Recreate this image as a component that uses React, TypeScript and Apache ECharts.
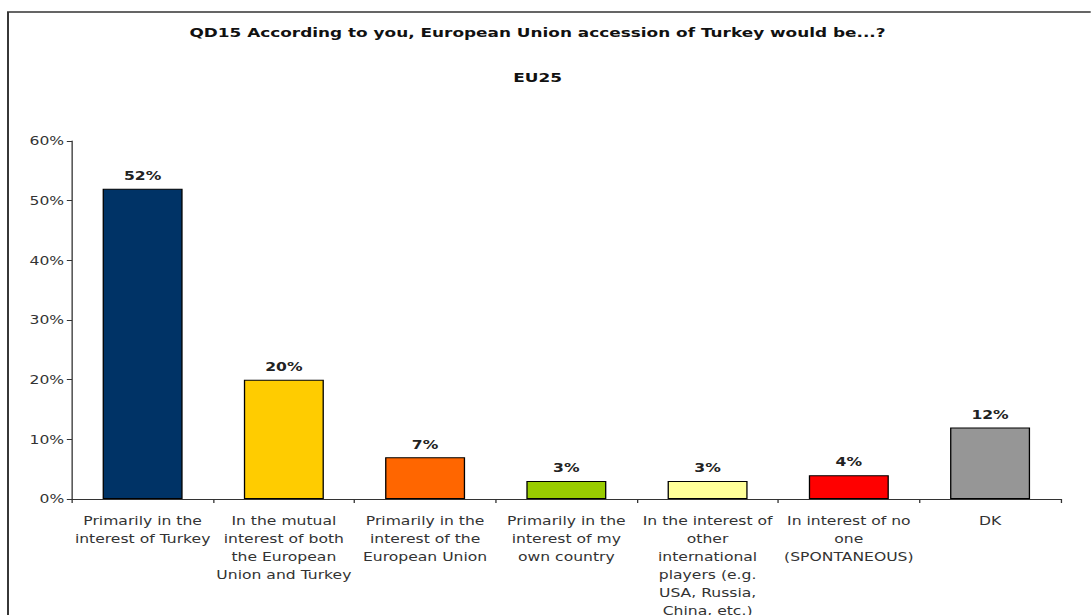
import React, { useEffect, useRef } from "react";
import * as echarts from "echarts";

const categories = [
  "Primarily in the\ninterest of Turkey",
  "In the mutual\ninterest of both\nthe European\nUnion and Turkey",
  "Primarily in the\ninterest of the\nEuropean Union",
  "Primarily in the\ninterest of my\nown country",
  "In the interest of\nother\ninternational\nplayers (e.g.\nUSA, Russia,\nChina, etc.)",
  "In interest of no\none\n(SPONTANEOUS)",
  "DK",
];
const values = [52, 20, 7, 3, 3, 4, 12];
const barColors = ["#003366", "#FFCC00", "#FF6600", "#99CC00", "#FFFF99", "#FF0000", "#969696"];
const yTicks = [0, 10, 20, 30, 40, 50, 60];
const titleText = "QD15 According to you, European Union accession of Turkey would be...?";
const subtitleText = "EU25";

const FONT = "Verdana, 'DejaVu Sans', sans-serif";
// the reference picture is stretched horizontally; draw narrower and stretch
const STRETCH = 1.3;
const W = 1091 / STRETCH;
const H = 615;

export default function App() {
  const ref = useRef<HTMLDivElement>(null);
  useEffect(() => {
    if (!ref.current) return;
    const chart = echarts.init(ref.current, null, { renderer: "svg" });
    chart.setOption({
      animation: false,
      backgroundColor: "#ffffff",
      graphic: [
        {
          type: "rect",
          shape: { x: 8 / STRETCH, y: 12, width: 1100, height: 620 },
          style: { fill: "none", stroke: "#333333", lineWidth: 1.5 },
          silent: true,
        },
      ],
      title: [
        {
          text: titleText,
          left: 531 / STRETCH,
          textAlign: "center",
          top: 21,
          textStyle: { fontFamily: FONT, fontSize: 13, fontWeight: "bold", color: "#111" },
        },
        {
          text: subtitleText,
          left: 531 / STRETCH,
          textAlign: "center",
          top: 66,
          textStyle: { fontFamily: FONT, fontSize: 13, fontWeight: "bold", color: "#111" },
        },
      ],
      grid: {
        left: 72 / STRETCH,
        right: W - 1061 / STRETCH,
        top: 141,
        bottom: 116,
        containLabel: false,
        outerBoundsMode: "none",
      },
      xAxis: {
        type: "category",
        data: categories,
        axisLine: { lineStyle: { color: "#333", width: 1 } },
        axisTick: { show: true, alignWithLabel: false, length: 4, lineStyle: { color: "#333" } },
        axisLabel: {
          interval: 0,
          fontFamily: FONT,
          fontSize: 12,
          color: "#333",
          lineHeight: 18,
          margin: 13,
          align: "center",
        },
      },
      yAxis: {
        type: "value",
        min: yTicks[0],
        max: yTicks[yTicks.length - 1],
        interval: 10,
        splitLine: { show: false },
        axisLine: { show: true, lineStyle: { color: "#333", width: 1 } },
        axisTick: { show: true, length: 4, lineStyle: { color: "#333" } },
        axisLabel: {
          formatter: (v: number) => `${v}%`,
          fontFamily: FONT,
          fontSize: 12,
          color: "#333",
          margin: 6,
        },
      },
      series: [
        {
          type: "bar",
          barWidth: 80 / STRETCH,
          data: values.map((v, i) => ({
            value: v,
            itemStyle: { color: barColors[i], borderColor: "#000", borderWidth: 1 },
          })),
          label: {
            show: true,
            position: "top",
            distance: 7,
            formatter: "{c}%",
            fontFamily: FONT,
            fontSize: 12,
            fontWeight: "bold",
            color: "#222",
          },
        },
      ],
    });
    return () => chart.dispose();
  }, []);
  return (
    <div
      ref={ref}
      style={{
        position: "fixed",
        left: 0,
        top: 0,
        width: W,
        height: H,
        transform: `scaleX(${STRETCH})`,
        transformOrigin: "0 0",
      }}
    />
  );
}
